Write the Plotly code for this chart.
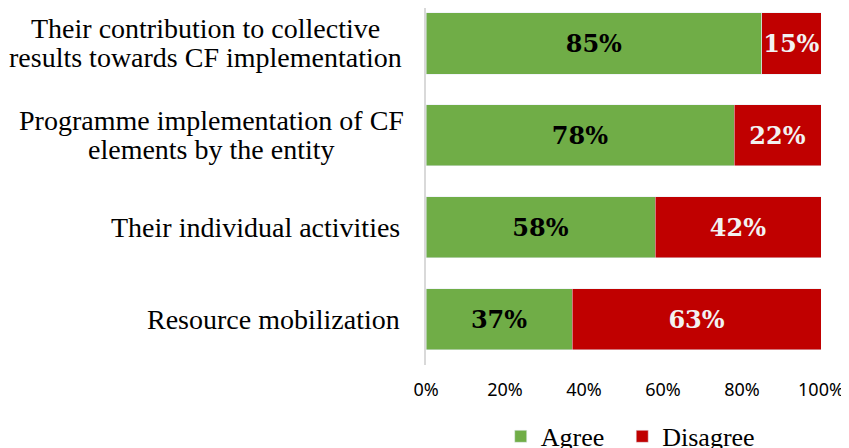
import plotly.graph_objects as go

categories = ["Resource mobilization",
              "Their individual activities",
              "Programme implementation of CF<br>elements by the entity",
              "Their contribution to collective<br>results towards CF implementation"]
agree = [37, 58, 78, 85]
disagree = [63, 42, 22, 15]
tick_vals = [0, 20, 40, 60, 80, 100]
tick_text = ["0%", "20%", "40%", "60%", "80%", "100%"]

serif = "Liberation Serif, Times New Roman, serif"
bar_font = "DejaVu Serif, serif"

fig = go.Figure()
fig.add_trace(go.Bar(
    y=categories, x=agree, name="Agree\u00a0\u00a0", orientation="h",
    marker=dict(color="#70AD47"),
    text=[f"{v}%" for v in agree], textposition="inside", insidetextanchor="middle",
    textangle=0, constraintext="none",
    textfont=dict(family=bar_font, size=24, color="#000000", weight="bold"),
))
fig.add_trace(go.Bar(
    y=categories, x=disagree, name="Disagree", orientation="h",
    marker=dict(color="#C00000"),
    text=[f"{v}%" for v in disagree], textposition="inside", insidetextanchor="middle",
    textangle=0, constraintext="none",
    textfont=dict(family=bar_font, size=24, color="#F2F2F2", weight="bold"),
))

# category labels: one annotation per line, multi-line blocks centred
for c in categories:
    lines = c.split("<br>")
    n = len(lines)
    if n == 1:
        xpos, anchor = -0.06, "right"
    elif c.startswith("Their"):
        xpos, anchor = -0.557, "center"
    else:
        xpos, anchor = -0.542, "center"
    for i, line in enumerate(lines):
        fig.add_annotation(x=xpos, xref="paper", y=c, yref="y", text=line,
                           showarrow=False, xanchor=anchor, yanchor="middle",
                           yshift=((n - 1) / 2 - i) * 29,
                           font=dict(family=serif, size=28, color="#000000"))

# page body adds an 8px offset, so the figure is 8px smaller
fig.update_layout(
    barmode="stack", bargap=0.335,
    width=841, height=440,
    margin=dict(l=418, r=28, t=0, b=83, autoexpand=False),
    plot_bgcolor="white", paper_bgcolor="white",
    legend=dict(orientation="h", x=0.517, xanchor="center", y=-0.2, yanchor="middle",
                font=dict(family=serif, size=26, color="#000000"),
                traceorder="normal"),
    showlegend=True,
)
fig.update_xaxes(range=[0, 100], tickvals=tick_vals, ticktext=tick_text,
                 showgrid=False, zeroline=False, showline=False,
                 ticks="outside", ticklen=8, tickcolor="white",
                 tickfont=dict(family="Noto Sans", size=18, color="#000000"))
fig.update_yaxes(showticklabels=False, showline=True, linecolor="#D9D9D9", linewidth=2,
                 showgrid=False, range=[-0.5, 3.386])

fig.write_html("out.html")
